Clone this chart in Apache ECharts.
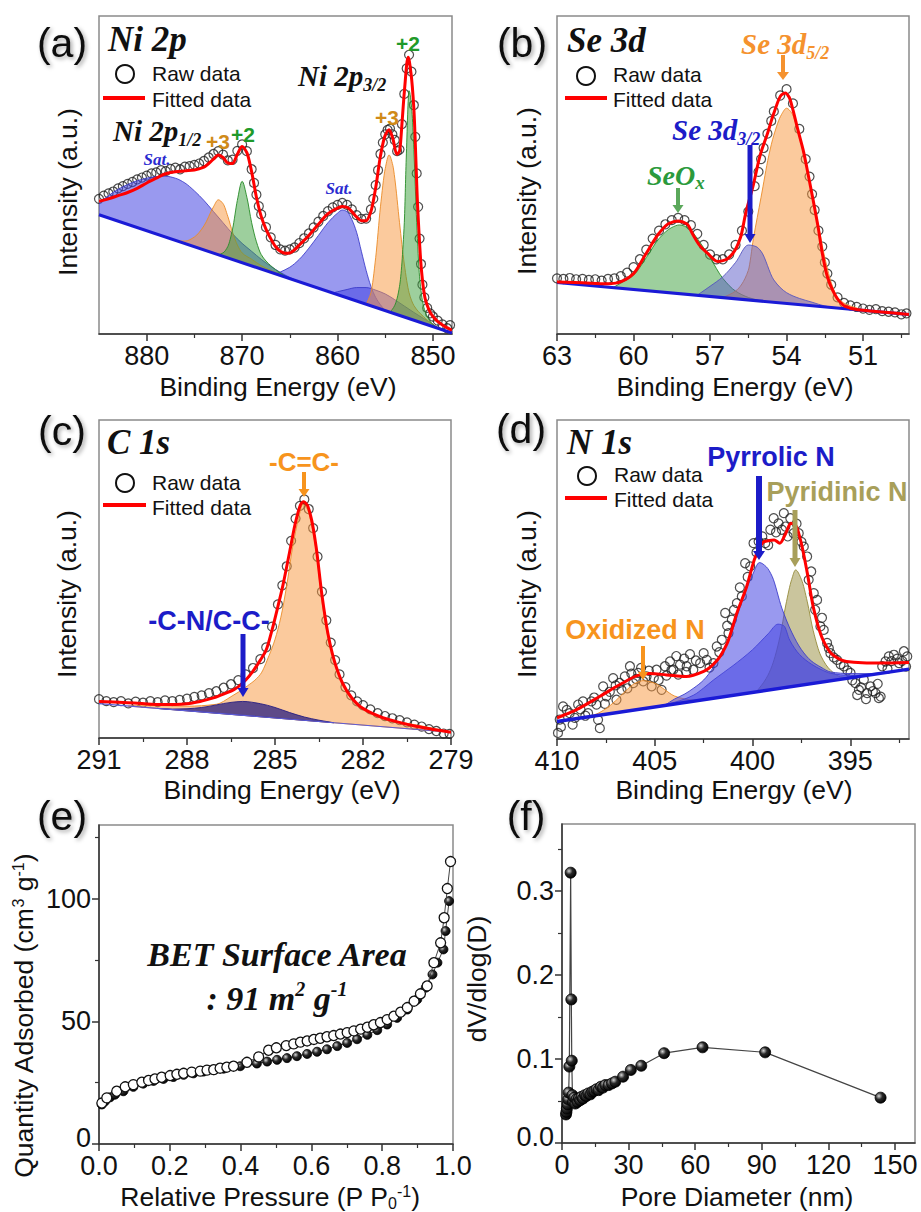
<!DOCTYPE html>
<html>
<head>
<meta charset="utf-8">
<script src="https://cdn.jsdelivr.net/npm/echarts@6/dist/echarts.min.js"></script>
<style>
html,body{margin:0;padding:0;background:#ffffff;}
#chart{width:921px;height:1212px;}
</style>
</head>
<body>
<div id="chart"></div>
<script>
// ================= (a) Ni 2p =================
const niTicks = [850, 860, 870, 880];
const niMinorTicks = [855, 865, 875];
const niRaw = [[885,42.5],[884.5,43.5],[884,44.2],[883.5,44.8],[883,45.8],[882.5,46.5],[882,47.2],[881.5,47.8],[881,48.6],[880.5,49.2],[880,49.8],[879.5,50.5],[879,50.8],[878.5,51.5],[878,51.2],[877.5,51.9],[877,52.3],[876.5,51.8],[876,52.6],[875.5,52.8],[875,53.2],[874.5,53.6],[874,54.4],[873.5,55.5],[873,56.6],[872.5,57.5],[872,56.4],[871.5,54.6],[871,54.8],[870.5,57.6],[870,59.6],[869.5,57.5],[869,51.8],[868.75,47.5],[868.5,43.8],[868.25,40.2],[868,37.6],[867.5,33.6],[867,30.4],[866.5,28],[866,26.6],[865.5,26.2],[865,26.6],[864.5,27.2],[864,28.6],[863.5,30.1],[863,31.6],[862.5,33.5],[862,35.3],[861.5,37.1],[861,38.6],[860.5,39.8],[860,40.6],[859.5,41.2],[859,40.6],[858.5,39.2],[858,37.4],[857.5,36.2],[857,36.3],[856.5,39.2],[856.25,42.5],[856,46.8],[855.75,51.5],[855.5,56.6],[855.25,60.2],[855,62.8],[854.75,64.2],[854.5,64.6],[854.25,62.8],[854,61],[853.75,57.5],[853.5,58],[853.25,66],[853,75.5],[852.75,83.5],[852.5,87.8],[852.25,82.5],[852,72],[851.85,62],[851.7,50.5],[851.55,40],[851.4,30],[851.25,22],[851.1,15.5],[850.9,11.5],[850.6,8.2],[850.3,6.5],[850,5.5],[849.5,4.2],[849,3],[848.5,1.8],[848.2,2.8]];
const niFit = [[885,41.7],[884,42.5],[883,43.5],[882,44.5],[881,45.8],[880,47.5],[879,49.0],[878,50.4],[877,51.0],[876,51.3],[875,51.6],[874,52.5],[873,55.0],[872.5,56.3],[872,55.5],[871.5,53.8],[871,53.6],[870.5,56.5],[870,59.0],[869.5,57.0],[869,51.0],[868.5,43.0],[868,37.0],[867.5,33.0],[867,30.0],[866.5,27.5],[866,26.0],[865.5,25.4],[865,25.5],[864.5,26.5],[864,28.0],[863,31.0],[862,34.5],[861,37.8],[860,39.6],[859.5,40.1],[859,39.8],[858.5,38.5],[858,36.8],[857.5,35.6],[857,35.6],[856.5,38.5],[856,46.0],[855.5,56.0],[855,62.5],[854.6,64.2],[854.2,61.5],[853.8,56.5],[853.5,57.5],[853.2,68.0],[853,76.0],[852.6,87.0],[852.3,82.0],[852,71.0],[851.6,40.0],[851.2,20.0],[850.8,11.0],[850,5.5],[849,2.8],[848,1.2]];
const niBaseline = [[885,37.5],[848,0.3]];
const niSat1 = [[885.5,38.0],[885,41],[884,43.5],[883,45.5],[882,47],[881,48.2],[880,49],[879,49.5],[878,49.6],[877,49],[876,47.5],[875,45],[874,42],[873,38.5],[872,35],[871,31.5],[870,28.5],[869,26],[868,23.5],[867,21.3],[866,19.4],[865,17.8],[864,16.4]];
const niSat2 = [[866.5,18.9],[866,19.5],[865,21],[864,23.5],[863,27],[862,31],[861,35],[860,38],[859.5,39],[859,38.5],[858.5,36],[858,32],[857.5,26],[857,20],[856.5,15],[856,11.5],[855.5,9.2],[855,7.3]];
const niSat3 = [[860.5,12.9],[860,13.3],[859,14],[858,14.6],[857,14.6],[856,13.8],[855,12.6],[854,10.8],[853,8.8],[852,6.8],[851,4.9],[850,3.1],[849.5,1.8]];
const niP3Low = [[877,29.4],[876,29.2],[875,30.5],[874,34],[873,40],[872.5,42.2],[872,41],[871.5,37],[871,32],[870.5,28],[870,25.5],[869,23.5],[868,21.5],[867,20],[866,18.8],[865,17.4]];
const niP2Low = [[872.5,24.9],[872,25.5],[871.5,27.5],[871,33],[870.5,42],[870,48],[869.5,43],[869,35],[868.5,29],[868,25],[867,21.5],[866,19.2],[865,17.4]];
const niP3High = [[857,9.3],[856.5,13],[856,24],[855.5,40],[855,52],[854.6,56.3],[854.2,53],[854,49],[853.5,35],[853,22],[852.5,13],[852,9],[851,5.5],[850,3],[849,1.3]];
const niP2High = [[854.5,6.8],[854,9],[853.5,15],[853,35],[852.8,55],[852.5,76.5],[852.2,70],[852,58],[851.7,35],[851.4,18],[851,9],[850.5,5],[850,3],[849,1.3]];

// ================= (b) Se 3d =================
const seTicks = [51, 54, 57, 60, 63];
const seMinorTicks = [49.5, 52.5, 55.5, 58.5, 61.5];
const seRaw = [[63,17.5],[62.75,17.3],[62.5,17.6],[62.25,17.2],[62,17.3],[61.75,17.0],[61.5,17.2],[61.25,16.8],[61,17.3],[60.75,17.5],[60.5,18.2],[60.25,19.3],[60,21],[59.75,23.5],[59.5,26.5],[59.25,30],[59,32.5],[58.75,34.5],[58.5,35.8],[58.25,36.5],[58,35.8],[57.75,34.2],[57.5,31.5],[57.25,28],[57,25],[56.75,23.5],[56.5,23.5],[56.25,25],[56,28],[55.75,32.5],[55.5,38.5],[55.25,46.5],[55.1,51],[55,55],[54.9,58.5],[54.75,63],[54.6,67],[54.5,70],[54.25,75],[54,77],[53.75,72.5],[53.5,64.5],[53.25,55],[53.1,49.5],[53,44],[52.9,39],[52.75,32.5],[52.6,27.5],[52.5,22.5],[52.4,19],[52.25,15.5],[52,11.5],[51.75,9.8],[51.5,9],[51.25,8.5],[51,8],[50.75,7.6],[50.5,7.8],[50.25,7.2],[50,7],[49.75,6.8],[49.5,6.2],[49.3,6.5]];
const seFit = [[63,16.4],[62,16.1],[61,15.8],[60.7,16.0],[60.3,17.2],[60,19],[59.5,25.4],[59,31.7],[58.6,34.8],[58.25,35.5],[57.9,34.6],[57.7,31.7],[57.4,27.8],[57.1,25.4],[56.7,22.8],[56.4,23.3],[56.1,25.4],[55.8,30.5],[55.6,38],[55.3,47],[55.05,55.8],[54.75,63],[54.5,69.4],[54.2,75.2],[54.05,75.8],[53.9,74.5],[53.75,70.5],[53.55,64],[53.35,57.9],[53.15,50],[52.96,42.2],[52.75,33],[52.6,25.4],[52.4,18],[52.2,13.9],[51.95,10.5],[51.7,8.7],[51.2,7.6],[50.5,7.1],[49.8,6.6],[49.2,6.1]];
const seBaseline = [[63,16.2],[49.2,6.1]];
const seSeOx = [[60.8,14.6],[60.5,16],[60,18.5],[59.5,24],[59,30],[58.5,33.5],[58.2,34.3],[57.8,33],[57.5,30],[57,24],[56.5,17.5],[56,13.5],[55.5,11.5],[55,10.35]];
const se3d32 = [[57.5,12.2],[57,15],[56.5,18],[56,22.5],[55.5,28],[55.2,27.5],[55,26],[54.5,17],[54,13],[53.5,11.2],[53,10],[52.5,8.8],[52,8.15]];
const se3d52 = [[56.5,11.45],[56,13.5],[55.5,20],[55.3,30],[55,43],[54.7,56],[54.5,62.5],[54.2,69],[54,71],[53.8,69.5],[53.5,62],[53.2,52],[53,44],[52.7,32],[52.5,24],[52.2,15],[52,11.5],[51.7,9.5],[51.3,8.3],[51,7.6],[50.5,7.05]];

// ================= (c) C 1s =================
const cTicks = [279, 282, 285, 288, 291];
const cMinorTicks = [280.5, 283.5, 286.5, 289.5];
const cRaw = [[291,12.2],[290.75,11.6],[290.5,11.3],[290.25,11.6],[290,10.9],[289.75,11.4],[289.5,11.1],[289.25,11.6],[289,11.3],[288.75,11.8],[288.5,11.6],[288.25,12],[288,12.4],[287.75,12.9],[287.5,13.4],[287.25,14.1],[287,14.7],[286.75,15.8],[286.5,16.9],[286.25,18.2],[286,20],[285.75,22],[285.5,24.8],[285.3,28.5],[285.1,35],[284.9,42],[284.75,48],[284.6,54],[284.45,62],[284.3,69],[284.15,73],[284,75],[283.85,72],[283.7,66],[283.55,57],[283.4,46],[283.25,37],[283.1,30],[282.95,24.5],[282.8,20],[282.6,16],[282.4,13.4],[282.2,11.5],[282,10.3],[281.75,9],[281.5,7.8],[281.25,6.9],[281,6.2],[280.75,5.6],[280.5,4.9],[280.25,4.2],[280,3.6],[279.75,2.8],[279.5,2.2],[279.25,1.4],[279.05,1.3]];
const cFit = [[291,11.5],[290.5,11.3],[289.8,11.0],[289.2,10.6],[288.7,10.5],[288,10.8],[287.5,11.6],[287.1,12.6],[286.7,14.0],[286.4,15.2],[286.1,17.3],[285.8,20.4],[285.5,24.5],[285.3,27.7],[285.1,34],[284.9,41.4],[284.74,47.6],[284.51,58.1],[284.28,68.6],[284.1,73.8],[284.03,74.3],[283.9,73.2],[283.75,68.5],[283.6,60.2],[283.4,45],[283.2,33],[283.05,26.7],[282.9,22],[282.7,17.3],[282.4,12.8],[282.1,9.9],[281.7,7.8],[281.3,6.3],[280.8,5.0],[280.2,3.7],[279.6,2.7],[279,1.8]];
const cBaseline = [[291,10.8],[279,1.8]];
const cCN = [[289,9.3],[288.5,9.1],[288,9.2],[287.5,9.6],[287,10.4],[286.5,11.2],[286.1,11.5],[285.5,10.8],[285,9.6],[284.5,8],[284,6.6],[283.5,5.6],[283,4.8]];
const cCC = [[290,10.05],[289,10.2],[288,10.0],[287,10.6],[286.5,13],[286,16],[285.5,20],[285.2,26],[285,31],[284.8,38],[284.6,48],[284.4,60],[284.2,69],[284.05,73.5],[283.9,72],[283.75,67],[283.6,59],[283.4,43],[283.2,32],[283,25],[282.7,17],[282.4,12.5],[282,9.5],[281.5,7],[281,5.5],[280,3.8],[279,1.8]];

// ================= (d) N 1s =================
const nTicks = [395, 400, 405, 410];
const nMinorTicks = [392.5, 397.5, 402.5, 407.5];
const nRaw = [[409.95,1.9],[409.86,6.1],[409.69,10.2],[409.35,8.1],[409.09,6.6],[408.92,10.8],[408.67,11.8],[408.41,8.1],[408.24,11.8],[407.98,10.8],[407.81,3.4],[407.64,16.5],[407.47,13.4],[407.13,19.1],[406.96,12.3],[406.7,15.4],[406.53,19.6],[406.27,22.8],[406.1,17.5],[405.85,20.7],[405.59,18.1],[405.42,19.6],[405.16,16.5],[404.91,21.7],[404.65,15.4],[404.48,22.8],[404.22,24.3],[404.05,21.7],[403.71,23.3],[403.37,22.8],[403.03,21.7],[402.68,23.8],[402.34,24.8],[402.0,23.8],[401.83,29.0],[401.57,31.1],[401.4,39.5],[401.23,33.2],[401.06,37.4],[400.8,42.6],[400.55,44.7],[400.38,55.1],[400.12,54.1],[399.95,61.4],[399.69,61.9],[399.35,61.4],[399.09,65.6],[398.92,69.2],[398.67,67.6],[398.5,65.6],[398.32,66.6],[398.07,69.2],[397.9,64.5],[397.64,64.5],[397.38,60.3],[397.21,57.2],[397.13,49.9],[396.87,45.7],[396.7,43.6],[396.53,35.3],[396.36,34.2],[396.19,30.1],[396.02,26.9],[395.68,24.8],[395.33,22.8],[394.99,20.7],[394.74,17.5],[394.56,15.4],[394.31,18.6],[394.14,14.4],[393.97,16.5],[393.71,14.4],[393.54,12.8],[393.37,22.8],[393.2,24.3],[393.03,25.9],[392.77,26.4],[392.51,23.8],[392.26,27.5],[392.09,25.9],[403.9,26.0],[403.5,25.2],[403.2,26.6],[402.9,24.6],[402.5,26.9],[402.2,22.4],[401.7,27.2],[401.3,35.5],[400.95,40.5],[400.65,47.5],[400.25,50.8],[399.8,58.5],[399.5,63.5],[399.2,60.8],[398.8,64.8],[398.4,70.8],[398.2,63.5],[397.75,67.5],[397.5,61.8],[397.0,52.5],[396.8,40.5],[396.45,38.0],[396.1,28.5],[395.85,25.6],[395.5,23.4],[395.15,21.5],[394.9,18.4],[394.65,13.8],[394.45,16.2],[394.2,12.5],[393.85,15.0],[393.6,17.3],[393.45,13.3],[393.1,22.0],[392.9,24.4],[392.6,25.2],[392.35,24.5],[392.15,22.7],[409.8,3.8],[409.5,9.1],[409.2,4.5],[408.8,9.3],[408.55,7.3],[408.1,13.0],[407.9,6.0],[407.55,11.0],[407.3,14.8],[407.0,16.8],[406.8,17.6],[406.4,15.9],[406.2,20.5],[405.95,18.8],[405.7,22.3],[405.3,21.4],[405.05,19.2],[404.8,18.5],[404.4,19.9],[404.15,21.6],[403.8,20.2],[403.4,21.0]];
const nFit = [[410,6.6],[409,9.2],[407.8,13.4],[406.8,17.0],[405.75,20.1],[405.25,20.5],[404.4,20.1],[403.4,19.6],[402.5,21.2],[401.8,24.8],[401.3,30],[400.8,39.5],[400.3,47.8],[399.85,57.2],[399.4,61.9],[398.9,62.4],[398.6,61.4],[398.3,64.5],[398.05,67.6],[397.8,67.1],[397.55,62.4],[397.2,52],[396.9,41.5],[396.4,31.1],[395.9,26.4],[395.2,24.3],[394.4,23.9],[393.6,23.8],[392,24]];
const nBaseline = [[410,5.5],[392,21.9]];
const nOxidized = [[408.5,6.9],[408,7.8],[407.5,9.5],[407,12],[406.5,15],[406,17.5],[405.6,18.3],[405,17.5],[404.5,15.5],[404,13.5],[403.5,12.6],[403,12.2],[402,12.8]];
const nPyrrolic = [[404.5,10.5],[404,12.5],[403.5,14],[403,16],[402.5,18.5],[402,22.5],[401.5,28],[401,34.5],[400.5,44],[400,51.5],[399.65,55.3],[399.3,54],[399,51],[398.5,41],[398,33.5],[397.5,28],[397,24.5],[396.5,22.5],[396,21],[395,20.5],[394,20.5],[393,21.0]];
const nBroad = [[405,10.1],[404,11.5],[403,13.8],[402.5,16],[402,18.5],[401,23],[400,28],[399.2,33],[398.7,36],[398.4,35.5],[398.1,31],[397.6,26.5],[397,23.5],[396.5,21.8],[396,20.6],[395,19.9],[394,20.3],[393,21.0]];
const nPyridinic = [[399.8,14.8],[399.3,19],[399,23],[398.6,32],[398.3,42],[398,50],[397.8,53],[397.5,50],[397.2,43],[396.9,34],[396.5,26],[396,21.5],[395.5,19.5],[395,19.3],[394,20.1]];

// ================= (e) BET isotherm =================
const eXTicks = [0, 0.2, 0.4, 0.6, 0.8, 1.0];
const eXMinor = [0.1, 0.3, 0.5, 0.7, 0.9];
const eYTicks = [0, 50, 100];
const eYMinor = [25, 75, 125];
const eAdsorption = [[0.008,16.1],[0.017,17.4],[0.031,19.0],[0.045,20.1],[0.069,21.5],[0.097,23.3],[0.125,24.6],[0.154,25.7],[0.182,26.5],[0.21,27.3],[0.239,28.2],[0.267,28.8],[0.295,29.5],[0.324,30.1],[0.352,30.7],[0.399,31.7],[0.446,32.8],[0.475,33.6],[0.503,34.3],[0.531,35.0],[0.559,35.8],[0.588,36.7],[0.616,37.6],[0.644,38.6],[0.673,39.9],[0.701,41.2],[0.729,42.7],[0.758,44.5],[0.786,46.4],[0.814,48.7],[0.842,51.4],[0.871,54.8],[0.899,58.9],[0.923,63.7],[0.942,69.1],[0.956,73.9],[0.973,79.3],[0.979,86.8],[0.989,99.0]];
const eDesorption = [[0.008,16.7],[0.022,18.8],[0.05,21.5],[0.074,23.3],[0.097,24.2],[0.121,25.2],[0.14,25.9],[0.158,26.5],[0.177,27.2],[0.201,27.9],[0.22,28.4],[0.239,28.8],[0.262,29.3],[0.286,29.7],[0.305,30.1],[0.324,30.3],[0.342,30.9],[0.361,31.3],[0.38,31.7],[0.418,33.3],[0.451,35.5],[0.479,38.2],[0.501,39.2],[0.529,40.1],[0.55,40.8],[0.569,41.5],[0.588,42.0],[0.607,42.6],[0.625,43.1],[0.644,43.7],[0.663,44.2],[0.682,44.8],[0.701,45.4],[0.72,46.1],[0.739,46.8],[0.758,47.6],[0.776,48.6],[0.795,49.5],[0.814,50.7],[0.833,52.1],[0.852,53.7],[0.871,55.6],[0.89,58.2],[0.908,61.2],[0.927,64.4],[0.946,73.9],[0.965,82.0],[0.975,92.2],[0.984,104.1],[0.993,115.1]];

// ================= (f) Pore size distribution =================
const fXTicks = [0, 30, 60, 90, 120, 150];
const fXMinor = [15, 45, 75, 105, 135];
const fYTicks = [0, 0.1, 0.2, 0.3];
const fYMinor = [0.05, 0.15, 0.25, 0.35];
const fPore = [[1.8,0.034],[2.0,0.037],[2.2,0.041],[2.5,0.046],[2.8,0.052],[3.0,0.06],[3.3,0.091],[3.9,0.322],[4.2,0.171],[4.4,0.098],[4.7,0.057],[5.0,0.049],[5.5,0.054],[6.0,0.047],[6.5,0.052],[7.0,0.049],[7.6,0.053],[8.2,0.051],[8.8,0.055],[9.5,0.053],[10.3,0.057],[11.0,0.056],[11.8,0.059],[12.8,0.058],[13.6,0.061],[14.5,0.062],[15.5,0.064],[16.5,0.063],[17.5,0.067],[18.5,0.066],[19.5,0.069],[21.0,0.069],[22.5,0.071],[24,0.073],[27.5,0.079],[31,0.087],[35.7,0.092],[46,0.107],[63.3,0.114],[91.5,0.108],[143.5,0.054]];

// ================= styling / helpers =================
const SANS = "'Liberation Sans', Arial, Helvetica, sans-serif";
const SERIF = "'Liberation Serif', 'Times New Roman', serif";
const AX = '#333';

const grids = [
  {left: 99, top: 16, width: 353, height: 318},
  {left: 557, top: 16, width: 352, height: 318},
  {left: 99, top: 420, width: 352, height: 318},
  {left: 557, top: 420, width: 352, height: 319},
  {left: 99, top: 825, width: 354, height: 319},
  {left: 562, top: 824, width: 353, height: 319}
];

const TICKFONT = 27;
function xPair(g, min, max, inverse, major, minor, fmt) {
  return [
    {type: 'value', gridIndex: g, min: min, max: max, inverse: inverse, position: 'bottom',
     axisLine: {show: true, onZero: false, lineStyle: {color: AX, width: 1.5}},
     axisTick: {show: true, inside: false, length: 7, customValues: major, lineStyle: {color: AX, width: 1.5}},
     axisLabel: {show: true, customValues: major, formatter: fmt, fontSize: TICKFONT, fontFamily: SANS, color: '#111', margin: 8},
     splitLine: {show: false}},
    {type: 'value', gridIndex: g, min: min, max: max, inverse: inverse, position: 'bottom',
     axisLine: {show: false, onZero: false},
     axisTick: {show: true, inside: false, length: 4, customValues: minor, lineStyle: {color: AX, width: 1.2}},
     axisLabel: {show: false}, splitLine: {show: false}}
  ];
}
function yPair(g, min, max, major, minor, fmt) {
  return [
    {type: 'value', gridIndex: g, min: min, max: max, position: 'left',
     axisLine: {show: true, onZero: false, lineStyle: {color: AX, width: 1.5}},
     axisTick: {show: true, inside: false, length: 7, customValues: major, lineStyle: {color: AX, width: 1.5}},
     axisLabel: {show: true, customValues: major, formatter: fmt, fontSize: TICKFONT, fontFamily: SANS, color: '#111', margin: 8,
       rich: {z: {fontSize: TICKFONT, fontFamily: SANS, color: '#111', padding: [0, 0, 12, 0]}}},
     splitLine: {show: false}},
    {type: 'value', gridIndex: g, min: min, max: max, position: 'left',
     axisLine: {show: false, onZero: false},
     axisTick: {show: true, inside: false, length: 4, customValues: minor, lineStyle: {color: AX, width: 1.2}},
     axisLabel: {show: false}, splitLine: {show: false}}
  ];
}
const intFmt = v => String(Math.round(v));
const oneFmt = v => v.toFixed(1);
// the zero label at the lower-left corner sits slightly higher, as in the figure
const yIntFmt = v => v === 0 ? '{z|0}' : String(Math.round(v));
const yOneFmt = v => v === 0 ? '{z|0.0}' : v.toFixed(1);

const xAxes = [].concat(
  xPair(0, 848, 885, true, niTicks, niMinorTicks, intFmt),
  xPair(1, 49.2, 63, true, seTicks, seMinorTicks, intFmt),
  xPair(2, 279, 291, true, cTicks, cMinorTicks, intFmt),
  xPair(3, 392, 410, true, nTicks, nMinorTicks, intFmt),
  xPair(4, 0, 1.0, false, eXTicks, eXMinor, oneFmt),
  xPair(5, 0, 159, false, fXTicks, fXMinor, intFmt)
);
const yAxes = [
  {type: 'value', gridIndex: 0, min: 0, max: 100, show: false},
  {type: 'value', gridIndex: 1, min: 0, max: 100, show: false},
  {type: 'value', gridIndex: 2, min: 0, max: 100, show: false},
  {type: 'value', gridIndex: 3, min: 0, max: 100, show: false}
].concat(yPair(4, 0, 130, eYTicks, eYMinor, yIntFmt), yPair(5, 0, 0.38, fYTicks, fYMinor, yOneFmt));
const Y_OF_GRID = [0, 1, 2, 3, 4, 6];

// monotone cubic path through pixel points (x increasing)
function monoPath(p, close) {
  const n = p.length;
  if (n < 2) return '';
  const h = [], d = [], m = [];
  for (let i = 0; i < n - 1; i++) { h[i] = p[i + 1][0] - p[i][0]; d[i] = (p[i + 1][1] - p[i][1]) / h[i]; }
  m[0] = d[0]; m[n - 1] = d[n - 2];
  for (let i = 1; i < n - 1; i++) {
    if (d[i - 1] * d[i] <= 0) m[i] = 0;
    else {
      const w1 = 2 * h[i] + h[i - 1], w2 = h[i] + 2 * h[i - 1];
      m[i] = (w1 + w2) / (w1 / d[i - 1] + w2 / d[i]);
    }
  }
  let s = 'M' + p[0][0].toFixed(2) + ',' + p[0][1].toFixed(2);
  for (let i = 0; i < n - 1; i++) {
    const dx = h[i] / 3;
    s += 'C' + (p[i][0] + dx).toFixed(2) + ',' + (p[i][1] + m[i] * dx).toFixed(2) + ',' +
      (p[i + 1][0] - dx).toFixed(2) + ',' + (p[i + 1][1] - m[i + 1] * dx).toFixed(2) + ',' +
      p[i + 1][0].toFixed(2) + ',' + p[i + 1][1].toFixed(2);
  }
  if (close) s += 'Z';
  return s;
}

function curveSeries(g, data, style, closed, z) {
  return {
    type: 'custom', xAxisIndex: 2 * g, yAxisIndex: Y_OF_GRID[g], data: data, z: z,
    encode: {x: 0, y: 1}, clip: true, silent: true,
    renderItem: function (params, api) {
      if (params.dataIndex !== 0) return null;
      const pts = data.map(function (d) { return api.coord(d); });
      return {type: 'path', shape: {pathData: monoPath(pts, closed)}, style: style};
    }
  };
}
function fill(g, data, fillColor, strokeColor) {
  return curveSeries(g, data, {fill: fillColor, stroke: strokeColor, lineWidth: 1}, true, 3);
}
function fitLine(g, data) {
  return curveSeries(g, data, {fill: 'none', stroke: '#ff0000', lineWidth: 3}, false, 5);
}
function rawSeries(g, data) {
  return {type: 'scatter', xAxisIndex: 2 * g, yAxisIndex: Y_OF_GRID[g], data: data, z: 2, silent: true,
    symbol: 'circle', symbolSize: 9,
    itemStyle: {color: 'rgba(255,255,255,0)', borderColor: '#222', borderWidth: 1.2}};
}
function baseLine(g, data, width, color) {
  return {type: 'line', xAxisIndex: 2 * g, yAxisIndex: Y_OF_GRID[g], data: data, z: 4, silent: true,
    symbol: 'none', lineStyle: {color: color, width: width}};
}

const BLUE = 'rgba(70,70,225,0.55)', BLUE_S = 'rgba(55,55,200,0.85)';
const ORANGE = 'rgba(248,150,60,0.5)', ORANGE_S = 'rgba(235,140,40,0.9)';
const GREEN = 'rgba(60,160,60,0.5)', GREEN_S = 'rgba(40,140,40,0.9)';
const KHAKI = 'rgba(150,140,60,0.5)', KHAKI_S = 'rgba(150,140,60,0.9)';
const LAV = 'rgba(90,90,200,0.5)', LAV_S = 'rgba(80,80,190,0.85)';
const CN = 'rgba(40,30,130,0.75)', CN_S = 'rgba(40,30,130,0.9)';
const BASEBLUE = '#1a1ad6';

const ball = {type: 'radial', x: 0.35, y: 0.35, r: 0.7,
  colorStops: [{offset: 0, color: '#d8d8d8'}, {offset: 0.45, color: '#2a2a2a'}, {offset: 1, color: '#000'}]};

const series = [
  // (a)
  rawSeries(0, niRaw),
  fill(0, niSat1, BLUE, BLUE_S), fill(0, niSat2, BLUE, BLUE_S), fill(0, niSat3, BLUE, BLUE_S),
  fill(0, niP3Low, ORANGE, ORANGE_S), fill(0, niP3High, ORANGE, ORANGE_S),
  fill(0, niP2Low, GREEN, GREEN_S), fill(0, niP2High, GREEN, GREEN_S),
  baseLine(0, niBaseline, 3, BASEBLUE), fitLine(0, niFit),
  // (b)
  rawSeries(1, seRaw),
  fill(1, seSeOx, GREEN, GREEN_S), fill(1, se3d52, ORANGE, ORANGE_S), fill(1, se3d32, LAV, LAV_S),
  baseLine(1, seBaseline, 3, BASEBLUE), fitLine(1, seFit),
  // (c)
  rawSeries(2, cRaw),
  fill(2, cCC, ORANGE, ORANGE_S), fill(2, cCN, CN, CN_S),
  baseLine(2, cBaseline, 1.2, '#5c5cd8'), fitLine(2, cFit),
  // (d)
  rawSeries(3, nRaw),
  fill(3, nOxidized, ORANGE, ORANGE_S), fill(3, nPyridinic, KHAKI, KHAKI_S),
  fill(3, nBroad, BLUE, BLUE_S), fill(3, nPyrrolic, BLUE, BLUE_S),
  baseLine(3, nBaseline, 3.5, BASEBLUE), fitLine(3, nFit),
  // (e)
  {type: 'line', xAxisIndex: 8, yAxisIndex: 4, data: eAdsorption, z: 3, silent: true,
   symbol: 'circle', symbolSize: 9, lineStyle: {color: '#444', width: 1},
   itemStyle: {color: ball, borderColor: '#000', borderWidth: 0.8}},
  {type: 'line', xAxisIndex: 8, yAxisIndex: 4, data: eDesorption, z: 4, silent: true,
   symbol: 'circle', symbolSize: 10, lineStyle: {color: '#444', width: 1},
   itemStyle: {color: '#fff', borderColor: '#111', borderWidth: 1.3}},
  // (f)
  {type: 'line', xAxisIndex: 10, yAxisIndex: 6, data: fPore, z: 3, silent: true,
   symbol: 'circle', symbolSize: 11, lineStyle: {color: '#444', width: 1.2},
   itemStyle: {color: ball, borderColor: '#000', borderWidth: 0.8}}
];

// ================= graphic text / annotations =================
const G = [];
function addText(x, y, text, style, rot) {
  G.push({type: 'text', x: x, y: y, rotation: rot || 0, z: 50, silent: true,
    style: Object.assign({text: text, fontFamily: SANS, fontSize: 20, fill: '#111', align: 'center', verticalAlign: 'middle'}, style)});
}
function addArrow(x, y1, y2, color, w, hw, hh) {
  G.push({type: 'line', z: 50, silent: true, shape: {x1: x, y1: y1, x2: x, y2: y2 - hh + 1}, style: {stroke: color, lineWidth: w}});
  G.push({type: 'polygon', z: 50, silent: true, shape: {points: [[x - hw / 2, y2 - hh], [x + hw / 2, y2 - hh], [x, y2]]}, style: {fill: color}});
}
function addLegend(cx, cy, tx, ty1, lx1, lx2, ly, ty2) {
  G.push({type: 'circle', z: 50, silent: true, shape: {cx: cx, cy: cy, r: 9}, style: {fill: 'none', stroke: '#111', lineWidth: 2}});
  addText(tx, ty1, 'Raw data', {align: 'left', fontSize: 21});
  G.push({type: 'line', z: 50, silent: true, shape: {x1: lx1, y1: ly, x2: lx2, y2: ly}, style: {stroke: '#ff0000', lineWidth: 4}});
  addText(tx, ty2, 'Fitted data', {align: 'left', fontSize: 21});
}
const panelStyle = {fontSize: 41, textShadowColor: 'rgba(0,0,0,0.35)', textShadowBlur: 4, textShadowOffsetX: 2, textShadowOffsetY: 2};
const titleStyle = {align: 'left', fontFamily: SERIF, fontWeight: 'bold', fontStyle: 'italic', fontSize: 35};
function subRich(color, size, subSize) {
  return {
    m: {fontFamily: SERIF, fontWeight: 'bold', fontStyle: 'italic', fontSize: size, lineHeight: size + 6, fill: color},
    s: {fontFamily: SERIF, fontWeight: 'bold', fontStyle: 'italic', fontSize: subSize, lineHeight: subSize + 4, verticalAlign: 'bottom', fill: color}
  };
}

// panel labels
addText(62, 43, '(a)', panelStyle);
addText(522, 43, '(b)', panelStyle);
addText(62, 431, '(c)', panelStyle);
addText(521, 429, '(d)', panelStyle);
addText(62, 816, '(e)', panelStyle);
addText(526, 816, '(f)', panelStyle);

// titles
addText(108, 39, 'Ni 2p', titleStyle);
addText(567, 40, 'Se 3d', titleStyle);
addText(107, 442, 'C 1s', titleStyle);
addText(567, 442, 'N 1s', titleStyle);

// legends
addLegend(125, 74, 152, 73, 103, 145, 98, 99);
addLegend(586, 76, 613, 74, 565, 607, 98, 99);
addLegend(125, 483, 152, 482, 103, 146, 505, 507);
addLegend(587, 476, 614, 474, 565, 607, 498, 499);

// axis titles
const axTitle = {fontSize: 26.5, lineHeight: 27};
addText(68, 192, 'Intensity (a.u.)', axTitle, Math.PI / 2);
addText(527, 191, 'Intensity (a.u.)', axTitle, Math.PI / 2);
addText(67, 594, 'Intensity (a.u.)', axTitle, Math.PI / 2);
addText(527, 594, 'Intensity (a.u.)', axTitle, Math.PI / 2);
addText(278, 387, 'Binding Energy (eV)', axTitle);
addText(735, 387, 'Binding Energy (eV)', axTitle);
addText(282, 790, 'Binding Energy (eV)', axTitle);
addText(734, 790, 'Binding Energy (eV)', axTitle);
const supRich = {
  t: {fontFamily: SANS, fontSize: 26.5, lineHeight: 28, fill: '#111'},
  p: {fontFamily: SANS, fontSize: 16, lineHeight: 16, verticalAlign: 'top', fill: '#111'},
  b: {fontFamily: SANS, fontSize: 16, lineHeight: 16, verticalAlign: 'bottom', fill: '#111'}
};
addText(24, 1016, '{t|Quantity Adsorbed (cm}{p|3}{t| g}{p|-1}{t|)}', {rich: supRich}, Math.PI / 2);
addText(270, 1197, '{t|Relative Pressure (P P}{b|0}{p|-1}{t|)}', {rich: supRich});
addText(477, 979, 'dV/dlog(D)', {fontSize: 26.5}, Math.PI / 2);
addText(737, 1197, 'Pore Diameter (nm)', {fontSize: 26.5, lineHeight: 27});

// (a) annotations
addText(298, 76, '{m|Ni 2p}{s|3/2}', {align: 'left', rich: subRich('#111', 29, 18)});
addText(113, 131, '{m|Ni 2p}{s|1/2}', {align: 'left', rich: subRich('#111', 29, 18)});
const ox3 = {fontSize: 21, fontWeight: 'bold', fill: '#d08a18'};
const ox2 = {fontSize: 21, fontWeight: 'bold', fill: '#1f9a2a'};
addText(218, 141, '+3', ox3);
addText(243, 134, '+2', ox2);
addText(387, 117, '+3', ox3);
addText(408, 43, '+2', ox2);
const satStyle = {fontFamily: SERIF, fontWeight: 'bold', fontStyle: 'italic', fontSize: 17, fill: '#2a2ad0'};
addText(157, 159, 'Sat.', satStyle);
addText(339, 188, 'Sat.', satStyle);

// (b) annotations
addText(741, 44, '{m|Se 3d}{s|5/2}', {align: 'left', rich: subRich('#f5922e', 29, 18)});
addArrow(783, 55, 80, '#f5922e', 4, 12, 8);
addText(672, 130, '{m|Se 3d}{s|3/2}', {align: 'left', rich: subRich('#1c1cc8', 29, 18)});
addArrow(750, 145, 243, '#1c1cc8', 5, 11, 9);
addText(647, 175, '{m|SeO}{s|x}', {align: 'left', rich: subRich('#2b9a3c', 28, 19)});
addArrow(678, 188, 213, '#5ba85b', 4, 11, 8);

// (c) annotations
addText(304, 462, '-C=C-', {fontSize: 26, fontWeight: 'bold', fill: '#f7941d'});
addArrow(304, 472, 497, '#f7941d', 4, 11, 8);
addText(209, 621, '-C-N/C-C-', {fontSize: 27, fontWeight: 'bold', fill: '#1c1cc8'});
addArrow(243, 634, 697, '#1c1cc8', 5, 11, 9);

// (d) annotations
addText(771, 457, 'Pyrrolic N', {fontSize: 27, fontWeight: 'bold', fill: '#1c1cc8'});
addArrow(759, 476, 560, '#1c1cc8', 6, 12, 9);
addText(837, 492, 'Pyridinic N', {fontSize: 27, fontWeight: 'bold', fill: '#a89f5a'});
addArrow(795, 510, 567, '#a89f5a', 5, 11, 9);
addText(635, 630, 'Oxidized N', {fontSize: 27, fontWeight: 'bold', fill: '#f7941d'});
addArrow(643, 646, 680, '#f7941d', 4, 10, 8);

// (e) BET text
addText(277, 954, 'BET Surface Area', {fontFamily: SERIF, fontWeight: 'bold', fontStyle: 'italic', fontSize: 34});
addText(277, 998, '{t|: 91 m}{p|2}{t| g}{p|-1}', {rich: {
  t: {fontFamily: SERIF, fontWeight: 'bold', fontStyle: 'italic', fontSize: 34, lineHeight: 38, fill: '#111'},
  p: {fontFamily: SERIF, fontWeight: 'bold', fontStyle: 'italic', fontSize: 20, lineHeight: 19, verticalAlign: 'top', fill: '#111'}
}});

const option = {
  animation: false,
  backgroundColor: '#ffffff',
  grid: grids.map(function (g) { return Object.assign({show: true, borderColor: '#8a8a8a', borderWidth: 1.5, backgroundColor: 'transparent'}, g); }),
  xAxis: xAxes,
  yAxis: yAxes,
  series: series,
  graphic: {elements: G}
};

const chart = echarts.init(document.getElementById('chart'), null, {renderer: 'svg', width: 921, height: 1212});
chart.setOption(option);
</script>
</body>
</html>
